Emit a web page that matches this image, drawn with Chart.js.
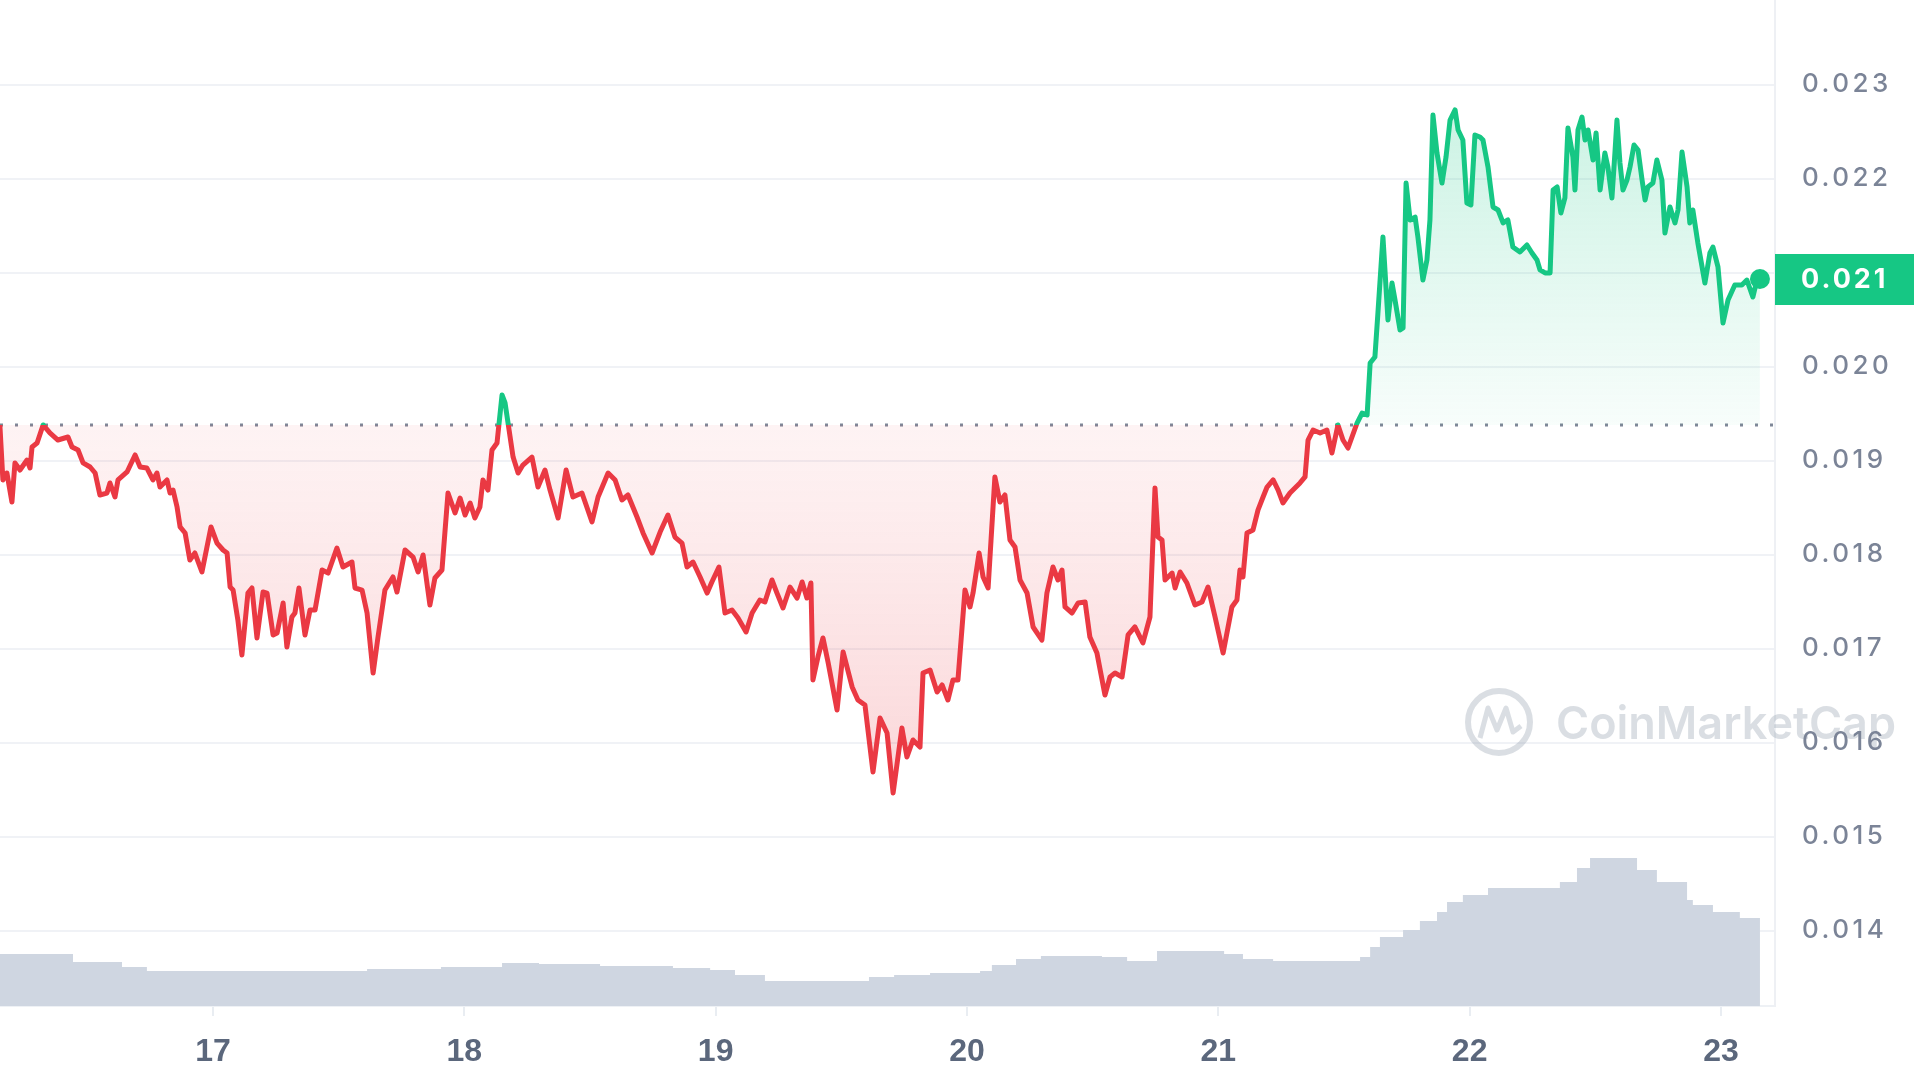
<!DOCTYPE html>
<html>
<head>
<meta charset="utf-8">
<title>Price chart</title>
<script src="https://cdn.jsdelivr.net/npm/chart.js@4.4.1/dist/chart.umd.min.js"></script>
<style>
  html, body { margin: 0; padding: 0; background: #ffffff; }
  #wrap { width: 1920px; height: 1080px; position: relative; }
</style>
</head>
<body>
<div id="wrap"><canvas id="priceChart"></canvas></div>
<script>
// time in days of the month, price in USD
const priceTimes = [
  16.152, 16.164, 16.180, 16.200, 16.212, 16.232, 16.260, 16.272, 16.280, 16.300,
  16.324, 16.351, 16.383, 16.423, 16.439, 16.463, 16.483, 16.511, 16.531, 16.550,
  16.578, 16.590, 16.610, 16.622, 16.658, 16.690, 16.710, 16.737, 16.761, 16.777,
  16.789, 16.817, 16.829, 16.841, 16.857, 16.869, 16.889, 16.908, 16.928, 16.956,
  16.968, 16.992, 17.016, 17.040, 17.056, 17.068, 17.080, 17.099, 17.115, 17.139,
  17.155, 17.175, 17.199, 17.215, 17.239, 17.255, 17.279, 17.294, 17.314, 17.326,
  17.342, 17.366, 17.386, 17.406, 17.434, 17.458, 17.493, 17.517, 17.553, 17.565,
  17.593, 17.613, 17.637, 17.656, 17.684, 17.716, 17.732, 17.764, 17.796, 17.816,
  17.836, 17.863, 17.883, 17.911, 17.935, 17.963, 17.983, 18.003, 18.023, 18.042,
  18.062, 18.074, 18.094, 18.110, 18.130, 18.150, 18.162, 18.174, 18.194, 18.214,
  18.233, 18.269, 18.293, 18.321, 18.341, 18.373, 18.405, 18.432, 18.468, 18.508,
  18.532, 18.572, 18.600, 18.627, 18.651, 18.687, 18.711, 18.747, 18.779, 18.810,
  18.838, 18.866, 18.886, 18.910, 18.938, 18.966, 18.985, 19.013, 19.037, 19.065,
  19.089, 19.121, 19.145, 19.176, 19.196, 19.224, 19.244, 19.268, 19.296, 19.324,
  19.344, 19.363, 19.379, 19.387, 19.407, 19.427, 19.447, 19.483, 19.507, 19.543,
  19.566, 19.594, 19.626, 19.654, 19.682, 19.706, 19.741, 19.761, 19.785, 19.813,
  19.825, 19.853, 19.881, 19.901, 19.924, 19.944, 19.964, 19.992, 20.012, 20.024,
  20.048, 20.064, 20.084, 20.111, 20.131, 20.151, 20.171, 20.191, 20.211, 20.239,
  20.263, 20.298, 20.318, 20.342, 20.362, 20.378, 20.390, 20.418, 20.442, 20.470,
  20.489, 20.517, 20.549, 20.569, 20.589, 20.617, 20.641, 20.668, 20.700, 20.728,
  20.748, 20.760, 20.776, 20.788, 20.816, 20.828, 20.848, 20.875, 20.907, 20.935,
  20.959, 20.987, 21.019, 21.054, 21.074, 21.086, 21.098, 21.114, 21.138, 21.158,
  21.178, 21.194, 21.218, 21.238, 21.257, 21.285, 21.325, 21.345, 21.357, 21.377,
  21.405, 21.432, 21.452, 21.476, 21.496, 21.516, 21.552, 21.572, 21.592, 21.604,
  21.623, 21.635, 21.655, 21.675, 21.691, 21.703, 21.723, 21.735, 21.747, 21.763,
  21.783, 21.794, 21.814, 21.830, 21.842, 21.854, 21.870, 21.890, 21.906, 21.922,
  21.942, 21.954, 21.973, 21.989, 22.005, 22.021, 22.041, 22.053, 22.073, 22.093,
  22.113, 22.133, 22.152, 22.172, 22.200, 22.228, 22.248, 22.268, 22.280, 22.300,
  22.320, 22.332, 22.348, 22.363, 22.379, 22.391, 22.411, 22.419, 22.431, 22.447,
  22.459, 22.471, 22.491, 22.503, 22.519, 22.538, 22.550, 22.566, 22.578, 22.586,
  22.598, 22.610, 22.626, 22.638, 22.654, 22.670, 22.686, 22.698, 22.709, 22.729,
  22.745, 22.765, 22.777, 22.797, 22.817, 22.829, 22.845, 22.865, 22.876, 22.888,
  22.908, 22.936, 22.956, 22.968, 22.988, 23.008, 23.028, 23.055, 23.083, 23.103,
  23.127, 23.143, 23.155
];

const prices = [
  0.019378, 0.018793, 0.018867, 0.018559, 0.018974, 0.018899, 0.019005, 0.018920, 0.019144, 0.019186,
  0.019378, 0.019293, 0.019218, 0.019250, 0.019144, 0.019112, 0.018974, 0.018931, 0.018867, 0.018633,
  0.018654, 0.018761, 0.018612, 0.018793, 0.018878, 0.019059, 0.018931, 0.018920, 0.018793, 0.018867,
  0.018718, 0.018793, 0.018654, 0.018686, 0.018505, 0.018293, 0.018229, 0.017942, 0.018016, 0.017814,
  0.017973, 0.018293, 0.018122, 0.018048, 0.018016, 0.017654, 0.017622, 0.017303, 0.016931, 0.017590,
  0.017644, 0.017112, 0.017601, 0.017590, 0.017144, 0.017165, 0.017484, 0.017016, 0.017335, 0.017378,
  0.017644, 0.017144, 0.017410, 0.017410, 0.017835, 0.017803, 0.018069, 0.017867, 0.017920, 0.017644,
  0.017622, 0.017378, 0.016739, 0.017112, 0.017622, 0.017761, 0.017601, 0.018048, 0.017973, 0.017814,
  0.017995, 0.017463, 0.017750, 0.017835, 0.018654, 0.018442, 0.018601, 0.018420, 0.018548, 0.018388,
  0.018505, 0.018793, 0.018686, 0.019112, 0.019186, 0.019697, 0.019612, 0.019399, 0.019037, 0.018867,
  0.018952, 0.019037, 0.018718, 0.018899, 0.018686, 0.018388, 0.018899, 0.018612, 0.018654, 0.018346,
  0.018612, 0.018867, 0.018793, 0.018580, 0.018633, 0.018399, 0.018229, 0.018016, 0.018239, 0.018420,
  0.018186, 0.018122, 0.017867, 0.017920, 0.017761, 0.017590, 0.017708, 0.017867, 0.017378, 0.017410,
  0.017325, 0.017176, 0.017378, 0.017516, 0.017495, 0.017729, 0.017590, 0.017431, 0.017654, 0.017537,
  0.017708, 0.017537, 0.017697, 0.016665, 0.016910, 0.017112, 0.016856, 0.016346, 0.016963, 0.016591,
  0.016452, 0.016399, 0.015686, 0.016261, 0.016101, 0.015463, 0.016154, 0.015846, 0.016027, 0.015952,
  0.016739, 0.016771, 0.016537, 0.016612, 0.016452, 0.016665, 0.016665, 0.017622, 0.017442, 0.017590,
  0.018016, 0.017761, 0.017644, 0.018825, 0.018559, 0.018633, 0.018154, 0.018080, 0.017729, 0.017590,
  0.017229, 0.017090, 0.017590, 0.017867, 0.017729, 0.017835, 0.017442, 0.017378, 0.017484, 0.017495,
  0.017122, 0.016952, 0.016505, 0.016697, 0.016739, 0.016697, 0.017144, 0.017229, 0.017059, 0.017335,
  0.018708, 0.018186, 0.018154, 0.017729, 0.017803, 0.017644, 0.017814, 0.017697, 0.017463, 0.017495,
  0.017654, 0.017335, 0.016952, 0.017442, 0.017516, 0.017835, 0.017761, 0.018229, 0.018261, 0.018474,
  0.018612, 0.018718, 0.018793, 0.018686, 0.018548, 0.018654, 0.018761, 0.018825, 0.019218, 0.019324,
  0.019293, 0.019324, 0.019080, 0.019378, 0.019218, 0.019133, 0.019399, 0.019505, 0.019484, 0.020037,
  0.020101, 0.020569, 0.021378, 0.020495, 0.020888, 0.020708, 0.020388, 0.020410, 0.021952, 0.021559,
  0.021590, 0.021378, 0.020920, 0.021133, 0.021559, 0.022676, 0.022271, 0.021952, 0.022229, 0.022622,
  0.022729, 0.022516, 0.022410, 0.021739, 0.021718, 0.022463, 0.022442, 0.022410, 0.022122, 0.021697,
  0.021665, 0.021527, 0.021559, 0.021271, 0.021218, 0.021293, 0.021208, 0.021133, 0.021027, 0.020995,
  0.020995, 0.021878, 0.021910, 0.021633, 0.021793, 0.022537, 0.022229, 0.021878, 0.022516, 0.022654,
  0.022410, 0.022516, 0.022197, 0.022484, 0.021878, 0.022271, 0.022122, 0.021793, 0.022271, 0.022622,
  0.022165, 0.021878, 0.021984, 0.022122, 0.022356, 0.022303, 0.021984, 0.021771, 0.021910, 0.021952,
  0.022197, 0.021984, 0.021420, 0.021697, 0.021527, 0.021665, 0.022282, 0.021910, 0.021527, 0.021665,
  0.021314, 0.020888, 0.021208, 0.021271, 0.021059, 0.020463, 0.020708, 0.020867, 0.020867, 0.020920,
  0.020739, 0.020920, 0.020931
];

// volume (relative units), each value holds until the next time
const volumeTimes = [
  16.152, 16.443, 16.638, 16.737, 17.613, 17.907, 18.150, 18.297, 18.540, 18.830,
  18.978, 19.077, 19.196, 19.610, 19.710, 19.853, 20.052, 20.099, 20.195, 20.294,
  20.537, 20.637, 20.756, 21.023, 21.098, 21.218, 21.564, 21.604, 21.643, 21.735,
  21.802, 21.870, 21.910, 21.973, 22.073, 22.359, 22.427, 22.479, 22.666, 22.745,
  22.865, 22.888, 22.968, 23.075, 23.155
];
const volumes = [
  5.2, 4.4, 3.9, 3.5, 3.7, 3.9, 4.3, 4.2, 4.0, 3.8,
  3.6, 3.1, 2.5, 2.9, 3.1, 3.3, 3.5, 4.1, 4.7, 5.0,
  4.9, 4.5, 5.5, 5.2, 4.7, 4.5, 4.9, 5.9, 6.9, 7.6,
  8.5, 9.4, 10.4, 11.1, 11.8, 12.4, 13.8, 14.8, 13.6, 12.4,
  10.6, 10.1, 9.4, 8.8, 8.8
];

const dayTicks = [17, 18, 19, 20, 21, 22, 23];
const priceTicks = [0.014, 0.015, 0.016, 0.017, 0.018, 0.019, 0.020, 0.021, 0.022, 0.023];
const openPrice = 0.019378;

const GREEN = '#16c784';
const RED = '#ea3943';

// dotted reference line at the opening price + watermark
const backdropPlugin = {
    id: 'backdrop',
    beforeDatasetsDraw(chart) {
        const { ctx, chartArea } = chart;
        const yBase = chart.scales.y.getPixelForValue(openPrice);

        ctx.save();
        // watermark
        ctx.globalAlpha = 0.32;
        ctx.strokeStyle = '#8d97a8';
        ctx.fillStyle = '#8d97a8';
        ctx.lineWidth = 6;
        ctx.beginPath();
        ctx.arc(1499, 722, 31, 0, Math.PI * 2);
        ctx.stroke();
        ctx.lineWidth = 5;
        ctx.lineJoin = 'round';
        ctx.beginPath();
        ctx.moveTo(1480, 738);
        ctx.lineTo(1488, 708);
        ctx.lineTo(1497, 730);
        ctx.lineTo(1506, 708);
        ctx.lineTo(1513, 732);
        ctx.lineTo(1521, 726);
        ctx.stroke();
        ctx.font = '600 45px Inter';
        ctx.textBaseline = 'alphabetic';
        ctx.fillText('CoinMarketCap', 1556, 739);
        ctx.restore();

        ctx.save();
        ctx.strokeStyle = '#7f8798';
        ctx.lineWidth = 3;
        ctx.setLineDash([3, 12]);
        ctx.beginPath();
        ctx.moveTo(chartArea.left, yBase);
        ctx.lineTo(chartArea.right, yBase);
        ctx.stroke();
        ctx.restore();
    },
    afterDatasetsDraw(chart) {
        // y labels are drawn after this hook (ticks.z = 1)
        chart.ctx.letterSpacing = '3.5px';
    },
    afterDraw(chart) {
        const { ctx } = chart;
        const y = chart.scales.y;
        const last = prices[prices.length - 1];
        const py = y.getPixelForValue(last);

        ctx.save();
        ctx.letterSpacing = '3px';
        ctx.fillStyle = GREEN;
        ctx.fillRect(1775, py - 25, 139, 51);
        ctx.fillStyle = '#ffffff';
        ctx.font = '700 27px Inter';
        ctx.textBaseline = 'middle';
        ctx.textAlign = 'left';
        ctx.fillText(last.toFixed(3), 1801, py + 1);
        ctx.restore();
        ctx.letterSpacing = '0px';
    }
};

const ctx = document.getElementById('priceChart');

const chart = new Chart(ctx, {
    type: 'line',
    data: {
        datasets: [
            {
                label: 'Price',
                data: priceTimes.map((t, i) => ({ x: t, y: prices[i] })),
                yAxisID: 'y',
                borderColor: RED,
                borderWidth: 5,
                borderJoinStyle: 'round',
                tension: 0,
                pointRadius: (c) => c.dataIndex === prices.length - 1 ? 10 : 0,
                pointHoverRadius: 0,
                pointBorderWidth: 0,
                pointBackgroundColor: GREEN,
                fill: false,
                order: 0
            },
            {
                label: 'Volume',
                data: volumeTimes.map((t, i) => ({ x: t, y: volumes[i] })),
                yAxisID: 'yVol',
                stepped: true,
                borderWidth: 0,
                borderColor: 'rgba(0,0,0,0)',
                backgroundColor: '#cfd6e1',
                pointRadius: 0,
                fill: 'origin',
                order: 1
            }
        ]
    },
    options: {
        responsive: true,
        maintainAspectRatio: false,
        animation: false,
        devicePixelRatio: 1,
        layout: { padding: 0, autoPadding: false },
        plugins: {
            legend: { display: false },
            tooltip: { enabled: false }
        },
        scales: {
            x: {
                type: 'linear',
                min: 16.1525,
                max: 23.2149,
                afterBuildTicks: (scale) => {
                    scale.ticks = dayTicks.map(v => ({ value: v }));
                },
                afterFit: (scale) => {
                    scale.height = 74;
                    scale.paddingLeft = 0;
                    scale.paddingRight = 0;
                },
                grid: {
                    display: true,
                    drawOnChartArea: false,
                    drawTicks: true,
                    tickLength: 10,
                    color: '#e9edf2',
                    lineWidth: 2
                },
                border: { display: true, color: '#eef1f5', width: 2 },
                ticks: {
                    padding: 17,
                    maxRotation: 0,
                    color: '#5b677c',
                    font: { family: 'Liberation Sans', size: 32, weight: 'bold' },
                    callback: (v) => String(v)
                }
            },
            y: {
                type: 'linear',
                position: 'right',
                min: 0.013197,
                max: 0.023899,
                afterBuildTicks: (scale) => {
                    scale.ticks = priceTicks.map(v => ({ value: v }));
                },
                afterFit: (scale) => {
                    scale.width = 145;
                    scale.paddingTop = 0;
                    scale.paddingBottom = 0;
                },
                grid: {
                    color: '#f0f2f6',
                    lineWidth: 2,
                    drawTicks: false
                },
                border: { display: true, color: '#eef0f4', width: 2 },
                ticks: {
                    z: 1,
                    padding: 27,
                    color: '#7b8497',
                    font: { family: 'Inter', size: 26, weight: '500' },
                    callback: (v) => Number(v).toFixed(3)
                }
            },
            yVol: {
                type: 'linear',
                display: false,
                min: 0,
                max: 100.6
            }
        }
    },
    plugins: [backdropPlugin]
});

// gradients need the laid-out chart area
function buildPaint(chart) {
    const area = chart.chartArea;
    const y = chart.scales.y;
    const c = chart.ctx;
    const base = y.getPixelForValue(openPrice);
    const high = y.getPixelForValue(Math.max(...prices));
    const low = y.getPixelForValue(Math.min(...prices));
    const stop = (base - area.top) / (area.bottom - area.top);

    const stroke = c.createLinearGradient(0, area.top, 0, area.bottom);
    stroke.addColorStop(0, GREEN);
    stroke.addColorStop(stop, GREEN);
    stroke.addColorStop(stop, RED);
    stroke.addColorStop(1, RED);

    const above = c.createLinearGradient(0, high, 0, base);
    above.addColorStop(0, 'rgba(22,199,132,0.22)');
    above.addColorStop(1, 'rgba(22,199,132,0.03)');

    const below = c.createLinearGradient(0, base, 0, low);
    below.addColorStop(0, 'rgba(234,57,67,0.06)');
    below.addColorStop(1, 'rgba(234,57,67,0.20)');

    return { stroke, above, below };
}

const paint = buildPaint(chart);
const priceSet = chart.data.datasets[0];
priceSet.borderColor = paint.stroke;
priceSet.pointBackgroundColor = paint.stroke;
priceSet.fill = { target: { value: openPrice }, above: paint.above, below: paint.below };
chart.update('none');
</script>
</body>
</html>
